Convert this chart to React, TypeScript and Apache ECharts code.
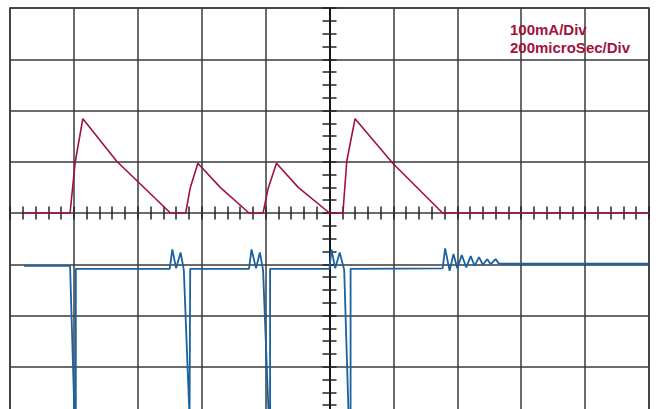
import React, { useEffect, useRef } from "react";
import * as echarts from "echarts";

// Time axis in screen divisions (200 µs / div), centre = 0
// Vertical axis in screen divisions (100 mA / div for the current trace)
const xRange = [-5, 5];
const yRange = [-4, 4];

// Current trace (red), [time div, amplitude div]
const currentTrace: [number, number][] = [
  [-4.79, 0], [-4.06, 0], [-3.98, 0.99], [-3.86, 1.84], [-3.33, 1.01], [-2.49, 0],
  [-2.25, 0], [-2.18, 0.49], [-2.06, 0.97], [-1.71, 0.5], [-1.26, 0],
  [-1.04, 0], [-0.96, 0.48], [-0.83, 0.97], [-0.49, 0.5], [0.0, 0],
  [0.21, 0], [0.27, 1.01], [0.4, 1.84], [0.99, 0.97], [1.77, 0], [5.0, 0],
];

// Voltage trace (blue), [time div, amplitude div]
const voltageTrace: [number, number][] = [
  [-4.78, -1.03], [-4.06, -1.03], [-3.99, -4], [-3.97, -4], [-3.97, -1.09],
  [-2.5, -1.09], [-2.46, -0.71], [-2.4, -1.08], [-2.33, -0.77], [-2.28, -1.11],
  [-2.19, -4], [-2.18, -4], [-2.18, -1.09],
  [-1.26, -1.09], [-1.22, -0.71], [-1.15, -1.08], [-1.09, -0.77], [-1.04, -1.11],
  [-0.95, -4], [-0.93, -4], [-0.93, -1.09],
  [0.0, -1.09], [0.03, -0.71], [0.09, -1.08], [0.16, -0.77], [0.23, -1.11],
  [0.3, -4], [0.33, -4], [0.33, -1.09],
  [1.77, -1.08], [1.81, -0.69], [1.88, -1.13], [1.94, -0.8], [2.0, -1.08],
  [2.07, -0.82], [2.14, -1.06], [2.21, -0.84], [2.27, -1.03], [2.34, -0.86],
  [2.4, -1.01], [2.47, -0.9], [2.52, -1.0], [2.6, -0.9], [2.65, -0.99], [5.0, -0.99],
];

const scaleLabels = ["100mA/Div", "200microSec/Div"];

const RED = "#A0123E";
const BLUE = "#1A62A0";
const GRID = "#3a3a3a";

export default function App() {
  const ref = useRef<HTMLDivElement>(null);
  useEffect(() => {
    if (!ref.current) return;
    const chart = echarts.init(ref.current, undefined, { renderer: "svg" });
    const hidden = { show: false };
    const tickAxisX = (inside: boolean) => ({
      type: "value",
      min: xRange[0],
      max: xRange[1],
      interval: 0.2,
      position: "bottom",
      axisLine: { show: true, onZero: true, onZeroAxisIndex: 0, lineStyle: { color: "#6a6a6a", width: 2 } },
      axisTick: { show: true, inside, length: 6.5, lineStyle: { color: "#222", width: 1.5 } },
      axisLabel: hidden,
      splitLine: hidden,
    });
    const tickAxisY = (inside: boolean) => ({
      type: "value",
      min: yRange[0],
      max: yRange[1],
      interval: 0.25,
      position: "left",
      axisLine: { show: true, onZero: true, onZeroAxisIndex: 0, lineStyle: { color: "#111", width: 1.5 } },
      axisTick: { show: true, inside, length: 7, lineStyle: { color: "#222", width: 1.5 } },
      axisLabel: hidden,
      splitLine: hidden,
    });
    chart.setOption({
      animation: false,
      backgroundColor: "#ffffff",
      grid: {
        left: 10,
        top: 8,
        width: 639,
        height: 410,
        show: true,
        borderColor: GRID,
        borderWidth: 1.5,
        containLabel: false,
      },
      xAxis: [
        {
          type: "value",
          min: xRange[0],
          max: xRange[1],
          interval: 1,
          axisLine: { show: false, onZero: false },
          axisTick: hidden,
          axisLabel: hidden,
          splitLine: { show: true, lineStyle: { color: GRID, width: 1.5 } },
        },
        tickAxisX(true),
        tickAxisX(false),
      ],
      yAxis: [
        {
          type: "value",
          min: yRange[0],
          max: yRange[1],
          interval: 1,
          axisLine: { show: false, onZero: false },
          axisTick: hidden,
          axisLabel: hidden,
          splitLine: { show: true, lineStyle: { color: GRID, width: 1.5 } },
        },
        tickAxisY(true),
        tickAxisY(false),
      ],
      series: [
        {
          type: "line",
          name: "current",
          data: currentTrace,
          xAxisIndex: 0,
          yAxisIndex: 0,
          showSymbol: false,
          symbol: "none",
          lineStyle: { color: RED, width: 1.6 },
          z: 5,
        },
        {
          type: "line",
          name: "voltage",
          data: voltageTrace,
          xAxisIndex: 0,
          yAxisIndex: 0,
          showSymbol: false,
          symbol: "none",
          lineStyle: { color: BLUE, width: 1.8 },
          z: 5,
        },
      ],
      graphic: [
        {
          type: "text",
          left: 510,
          top: 20,
          z: 10,
          style: {
            text: scaleLabels.join("\n"),
            fill: RED,
            font: "bold 15px 'Liberation Sans', Arial, sans-serif",
            lineHeight: 18.5,
          },
        },
      ],
    });
    return () => chart.dispose();
  }, []);
  return (
    <div
      style={{ position: "fixed", left: 0, top: 0, width: 658, height: 409, overflow: "hidden", background: "#fff" }}
    >
      <div ref={ref} style={{ width: 658, height: 430 }} />
    </div>
  );
}
